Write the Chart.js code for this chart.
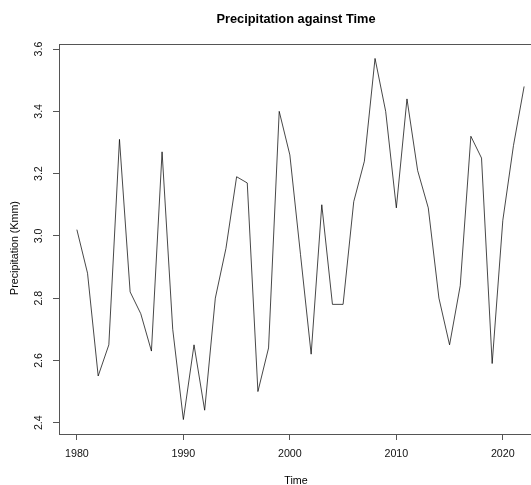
<!DOCTYPE html>
<html>
<head>
<meta charset="utf-8">
<script src="https://cdn.jsdelivr.net/npm/chart.js@4/dist/chart.umd.min.js"></script>
<style>
  html, body { margin: 0; padding: 0; background: #fff; overflow: hidden; width: 531px; height: 485px; }
  #wrap { position: absolute; left: 0; top: 0; width: 545px; height: 485px; }
</style>
</head>
<body>
<div id="wrap"><canvas id="c" width="545" height="485"></canvas></div>
<script>
const titleText = "Precipitation against Time";
const xTitle = "Time";
const yTitle = "Precipitation (Kmm)";
const years = [1980,1981,1982,1983,1984,1985,1986,1987,1988,1989,1990,1991,1992,1993,1994,1995,1996,1997,1998,1999,2000,2001,2002,2003,2004,2005,2006,2007,2008,2009,2010,2011,2012,2013,2014,2015,2016,2017,2018,2019,2020,2021,2022];
const precipitation = [3.02,2.88,2.55,2.65,3.31,2.82,2.75,2.63,3.27,2.70,2.41,2.65,2.44,2.80,2.96,3.19,3.17,2.50,2.64,3.40,3.26,2.94,2.62,3.10,2.78,2.78,3.11,3.24,3.57,3.40,3.09,3.44,3.21,3.09,2.80,2.65,2.84,3.32,3.25,2.59,3.05,3.29,3.48];
const xTicks = [1980,1990,2000,2010,2020];
const yTicks = [2.4,2.6,2.8,3.0,3.2,3.4,3.6];

const FONT = "'Liberation Sans', Arial, Helvetica, sans-serif";
const AXIS_COLOR = "#555";

// R-style padding: 4% beyond data range
const xr = [Math.min(...years), Math.max(...years)];
const yr = [Math.min(...precipitation), Math.max(...precipitation)];
const xPad = (xr[1] - xr[0]) * 0.04, yPad = (yr[1] - yr[0]) * 0.04;

const boxAndText = {
  id: 'boxAndText',
  beforeDatasetsDraw(chart) {
    const {ctx, chartArea: a} = chart;
    ctx.save();
    ctx.strokeStyle = AXIS_COLOR;
    ctx.lineWidth = 1;
    ctx.strokeRect(Math.round(a.left) + 0.5, Math.round(a.top) + 0.5,
                   Math.round(a.right - a.left), Math.round(a.bottom - a.top));
    ctx.restore();
  },
  afterDraw(chart) {
    const {ctx} = chart;
    ctx.save();
    ctx.fillStyle = '#000';
    ctx.textAlign = 'center';
    ctx.textBaseline = 'middle';
    ctx.font = "bold 12.8px " + FONT;
    ctx.fillText(titleText, 296, 19);
    ctx.font = "10.7px " + FONT;
    ctx.fillText(xTitle, 296, 481);
    ctx.translate(15, 248);
    ctx.rotate(-Math.PI / 2);
    ctx.fillText(yTitle, 0, 0);
    ctx.restore();
  }
};

new Chart(document.getElementById('c'), {
  type: 'line',
  data: {
    datasets: [{
      data: years.map((y, i) => ({x: y, y: precipitation[i]})),
      borderColor: 'rgba(0,0,0,0.72)',
      borderWidth: 1,
      pointRadius: 0,
      tension: 0,
      fill: false
    }]
  },
  options: {
    responsive: false,
    animation: false,
    devicePixelRatio: 1,
    layout: { padding: { left: 0, right: 3, top: 44, bottom: 0 } },
    plugins: { legend: { display: false }, title: { display: false }, tooltip: { enabled: false } },
    scales: {
      x: {
        type: 'linear',
        min: xr[0] - xPad,
        max: xr[1] + xPad,
        afterBuildTicks: s => { s.ticks = xTicks.map(v => ({value: v})); },
        afterFit: s => { s.height = 51; },
        border: { display: false },
        grid: { display: true, drawOnChartArea: false, drawTicks: true, tickLength: 6, color: AXIS_COLOR },
        ticks: {
          color: '#111', padding: 8, maxRotation: 0, minRotation: 0,
          font: { family: FONT, size: 10.7 },
          callback: v => String(v)
        }
      },
      y: {
        type: 'linear',
        min: yr[0] - yPad,
        max: yr[1] + yPad,
        afterBuildTicks: s => { s.ticks = yTicks.map(v => ({value: v})); },
        afterFit: s => { s.width = 59; },
        border: { display: false },
        grid: { display: true, drawOnChartArea: false, drawTicks: true, tickLength: 6, color: AXIS_COLOR },
        ticks: {
          color: '#111', padding: 6.5, minRotation: 90, maxRotation: 90, crossAlign: 'center',
          font: { family: FONT, size: 10.7 },
          callback: v => v.toFixed(1)
        }
      }
    }
  },
  plugins: [boxAndText]
});
</script>
</body>
</html>
